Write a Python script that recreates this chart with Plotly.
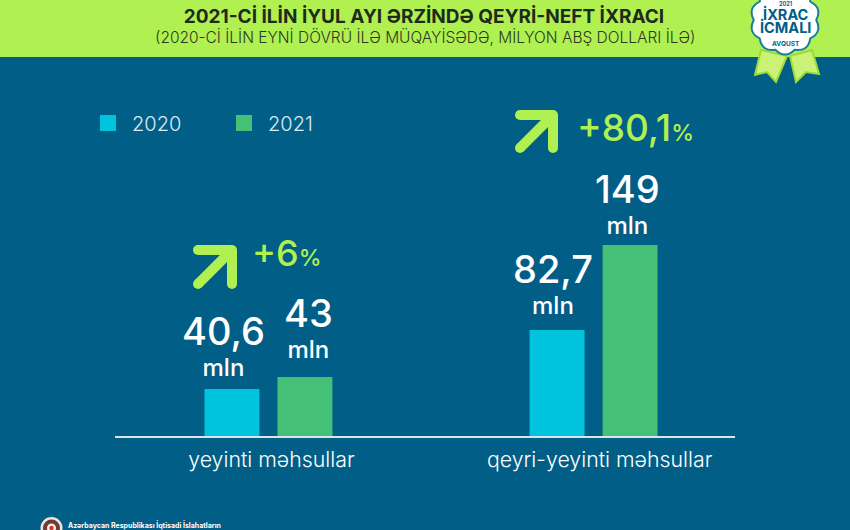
"""Non-oil export infographic, July 2021 vs July 2020"""
import math
import plotly.graph_objects as go

W, H = 850, 530
FONT = "Inter"
NAVY = "#005E87"
LIME = "#B0F050"
WHITE = "#FFFFFF"

categories = ["yeyinti məhsullar", "qeyri-yeyinti məhsullar"]
series_names = ["2020", "2021"]
series_colors = ["#00C4DE", "#45C177"]

# bar lengths as drawn; the first group is not to scale with its printed labels
values_2020 = [36.7, 82.7]
values_2021 = [46.0, 149.0]
labels_2020 = ["40,6", "82,7"]
labels_2021 = ["43", "149"]
unit_label = "mln"
growth_labels = ["+6", "+80,1"]


def fx(px):
    return px / W


def fy(py):
    return 1 - py / H


def path(points, close=True):
    d = "M" + " L".join(f"{fx(x):.5f},{fy(y):.5f}" for x, y in points)
    return d + (" Z" if close else "")


def dot(x, y, r, color):
    return dict(type="circle", xref="paper", yref="paper", x0=fx(x - r), x1=fx(x + r),
                y0=fy(y + r), y1=fy(y - r), fillcolor=color, line=dict(width=0), layer="above")


def arrow_shapes(left, top, size, width=10):
    # separate strokes plus dots, shapes have no round caps of their own
    right, bottom = left + size, top + size
    d = " ".join(path(seg, close=False) for seg in (
        [(left, top), (right, top)], [(right, top), (right, bottom)], [(right, top), (left, bottom)]))
    out = [dict(type="path", xref="paper", yref="paper", path=d,
                line=dict(color=LIME, width=width), layer="above")]
    for x, y in ((left, top), (right, top), (right, bottom), (left, bottom)):
        out.append(dot(x, y, width / 2, LIME))
    return out


def badge_path(cx, cy, radius, lobes=10):
    d = ""
    for i in range(lobes):
        a0 = 2 * math.pi * i / lobes
        a1 = 2 * math.pi * (i + 1) / lobes
        am = (a0 + a1) / 2
        x0, y0 = cx + radius * 0.92 * math.cos(a0), cy + radius * 0.92 * math.sin(a0)
        xc, yc = cx + radius * 1.16 * math.cos(am), cy + radius * 1.16 * math.sin(am)
        x1, y1 = cx + radius * 0.92 * math.cos(a1), cy + radius * 0.92 * math.sin(a1)
        if i == 0:
            d += f"M{fx(x0):.5f},{fy(y0):.5f} "
        d += f"Q{fx(xc):.5f},{fy(yc):.5f} {fx(x1):.5f},{fy(y1):.5f} "
    return d + "Z"


def text(x, y, s, size, color=WHITE, weight=400, anchor="center"):
    return dict(xref="paper", yref="paper", x=fx(x), y=fy(y), text=s, showarrow=False,
                xanchor=anchor, yanchor="middle",
                font=dict(family=FONT, size=size, color=color, weight=weight))


def value_label(x, y, lab, nudge, lift):
    # base size sets the line pitch, the spans set the glyph sizes
    s = f"<span style='font-size:38px'>{lab}</span><br><span style='font-size:24px'>{unit_label}</span>"
    return dict(x=x, y=y, xref="x", yref="y", text=s, showarrow=False, yanchor="bottom",
                xshift=nudge, yshift=lift, font=dict(family=FONT, size=24, color=WHITE, weight=500))


fig = go.Figure()
fig.add_trace(go.Bar(x=[0, 1], y=values_2020, name=series_names[0], showlegend=False,
                     marker=dict(color=series_colors[0], line=dict(width=0))))
fig.add_trace(go.Bar(x=[0, 1], y=values_2021, name=series_names[1], showlegend=False,
                     marker=dict(color=series_colors[1], line=dict(width=0))))
# legend entries only, bar swatches are fixed at a smaller size
for name, color in zip(series_names, series_colors):
    fig.add_trace(go.Scatter(x=[None], y=[None], mode="markers", name=name,
                             marker=dict(symbol="square", size=16, color=color)))

ribbon = dict(type="path", xref="paper", yref="paper", fillcolor="#CBF277",
              line=dict(color="#9ADB3C", width=2), layer="above")
shapes = [
    dict(type="rect", xref="paper", yref="paper", x0=0, x1=1, y0=fy(57), y1=1,
         fillcolor=LIME, line=dict(width=0), layer="below"),
    dict(ribbon, path=path([(761, 50), (755, 75), (767, 72), (776, 82), (787, 56)])),
    dict(ribbon, path=path([(790, 56), (796, 82), (806, 72), (819, 74), (812, 50)])),
    dict(type="path", xref="paper", yref="paper", path=badge_path(785, 20, 34),
         fillcolor=WHITE, line=dict(color="#1A7F9C", width=2), layer="above"),
    dot(51.5, 528, 11, "#EFE6D6"),
    dot(51.5, 528, 8.5, "#6E3A3A"),
    dot(51.5, 528, 4.5, "#F6F1E8"),
    dot(51.5, 528, 2.2, "#D6342C"),
    *arrow_shapes(198, 250, 34),
    *arrow_shapes(520, 115, 33),
]

annotations = [
    text(425, 38, "(2020-Cİ İLİN EYNİ DÖVRÜ İLƏ MÜQAYİSƏDƏ, MİLYON ABŞ DOLLARI İLƏ)", 15.5, "#2A3A22", 300),
    text(785, 4, "2021", 5.5, NAVY, 700),
    text(785, 27, "<span style='font-size:14.5px'>İXRAC</span><br>"
                  "<span style='font-size:14.5px'>İCMALI</span><br><span style='font-size:6.5px'>AVQUST</span>",
         10, NAVY, 700),
    text(250, 253, f"{growth_labels[0]}<span style='font-size:23px'>%</span>", 36, LIME, 500, "left"),
    text(575, 127, f"{growth_labels[1]}<span style='font-size:23px'>%</span>", 37, LIME, 500, "left"),
    text(66, 525, "Azərbaycan Respublikası İqtisadi İslahatların", 7, WHITE, 700, "left"),
]

# value labels sit on the bars, nudged to where the original placed them
offset = 0.2246 / 2
nudges_2020, lifts_2020 = [-8, -4], [5, 8]
nudges_2021, lifts_2021 = [4, -3], [11, 3]
for i, (lab, val) in enumerate(zip(labels_2020, values_2020)):
    annotations.append(value_label(i - offset, val, lab, nudges_2020[i], lifts_2020[i]))
for i, (lab, val) in enumerate(zip(labels_2021, values_2021)):
    annotations.append(value_label(i + offset, val, lab, nudges_2021[i], lifts_2021[i]))

fig.update_layout(
    width=W,
    height=H,
    autosize=False,
    margin=dict(l=0, r=0, t=0, b=0),
    paper_bgcolor=NAVY,
    plot_bgcolor=NAVY,
    barmode="group",
    bargap=0.551,
    bargroupgap=0.2475,
    title=dict(text="2021-Cİ İLİN İYUL AYI ƏRZİNDƏ QEYRİ-NEFT İXRACI", x=fx(424), y=fy(16),
               xanchor="center", yanchor="middle",
               font=dict(family=FONT, size=19, color="#1E2B1A", weight=700)),
    font=dict(family=FONT, color=WHITE),
    xaxis=dict(domain=[fx(115), fx(735)], range=[-0.472, 1.435], tickmode="array",
               tickvals=[0.009, 1.0185], ticktext=categories, showgrid=False, zeroline=False,
               showline=True, linecolor="#D7E6EC", linewidth=1.5, ticks="", ticklabelstandoff=4,
               tickfont=dict(family=FONT, size=21.3, color=WHITE, weight=300)),
    yaxis=dict(domain=[fy(436), fy(60)], range=[0, 293.3], visible=False),
    legend=dict(orientation="h", x=fx(84), y=fy(123), xanchor="left", yanchor="middle",
                entrywidth=83, entrywidthmode="pixels", itemwidth=38,
                font=dict(family=FONT, size=20, color="#DCEBF0", weight=300), bgcolor="rgba(0,0,0,0)"),
    shapes=shapes,
    annotations=annotations,
)

fig.write_html("out.html", config=dict(displayModeBar=False),
               post_script="document.body.style.margin='0';")
